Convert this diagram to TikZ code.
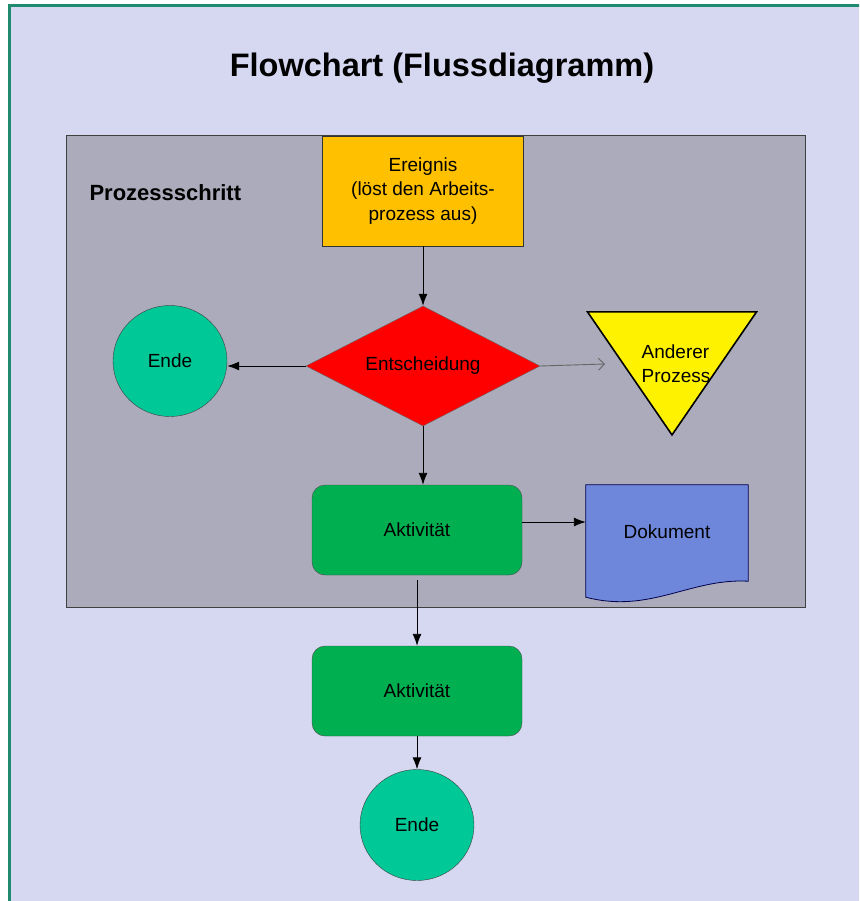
\documentclass[tikz,border=0pt]{standalone}
\usepackage{fontspec}
\setmainfont{Liberation Sans}
\usetikzlibrary{shapes,arrows.meta,positioning,calc}

\definecolor{bglav}{RGB}{214,216,242}
\definecolor{framegreen}{RGB}{30,138,110}
\definecolor{procgray}{RGB}{171,171,187}
\definecolor{evorange}{RGB}{255,192,0}
\definecolor{endgreen}{RGB}{0,200,150}
\definecolor{actgreen}{RGB}{0,176,80}
\definecolor{docblue}{RGB}{111,135,219}

\begin{document}
\begin{tikzpicture}[x=1pt, y=-1pt,
  ev/.style={rectangle, draw=black!80, fill=evorange, minimum width=201pt, minimum height=110pt, align=center, font=\fontsize{19}{24.5}\selectfont},
  dec/.style={diamond, aspect=1.95, draw=black!60, fill=red, minimum width=234pt, minimum height=120pt, inner sep=0pt, font=\fontsize{19}{24}\selectfont},
  term/.style={ellipse, draw=black!75, fill=endgreen, minimum width=114pt, minimum height=111pt, font=\fontsize{19}{24}\selectfont},
  act/.style={rectangle, rounded corners=13pt, draw=black!70, fill=actgreen, minimum width=210pt, minimum height=90pt, font=\fontsize{19}{24}\selectfont},
  tri/.style={isosceles triangle, isosceles triangle stretches, shape border rotate=-90, draw=black, line width=1.6pt, fill=yellow, minimum width=169pt, minimum height=123pt, inner sep=0pt},
  arrow/.style={-{Latex[length=12pt, width=9pt]}, line width=0.9pt}
]
\useasboundingbox (0,0) rectangle (859,901);
\clip (0,0) rectangle (859,901);

% background and frame
\fill[white] (0,0) rectangle (859,901);
\draw[line width=3pt, draw=framegreen, fill=bglav] (9,6) rectangle (890,930);

\node[font=\bfseries\fontsize{32.5}{38}\selectfont] (title) at (442,68) {Flowchart (Flussdiagramm)};

% process step area
\node[rectangle, draw=black!75, fill=procgray, minimum width=739pt, minimum height=472pt] (proc) at (435.5,371) {};
\node[anchor=west, font=\bfseries\fontsize{22}{26}\selectfont] (proclabel) at (86,193) {Prozessschritt};

\node[ev] (ereignis) at (423,191) {Ereignis\\(löst den Arbeits-\\prozess aus)};
\node[dec] (entsch) at (423,366) {Entscheidung};
\node[term] (endeA) at (170,361) {Ende};
\node[tri, anchor=apex] (other) at (672,437) {};
\node[align=left, font=\fontsize{19}{24}\selectfont] (othertext) at (676,364) {Anderer\\Prozess};
\coordinate (othertip) at (605,364);

\node[act] (akt1) at (417,530) {Aktivität};

% document with wavy bottom
\node[rectangle, minimum width=162pt, minimum height=112pt] (doc) at (667,541) {};
\draw[draw=black!70!blue, fill=docblue, line width=0.8pt] (doc.north west) -- (doc.north east) -- ([yshift=16pt]doc.south east)
  .. controls (690,578) and (650,614) .. (doc.south west) -- cycle;
\node[font=\fontsize{19}{24}\selectfont] (doctext) at (667,532) {Dokument};

\node[act] (akt2) at (417,691) {Aktivität};
\node[term] (endeB) at (417,825) {Ende};

% connectors
\draw[arrow] (ereignis) -- (entsch);
\draw[arrow] (entsch.west) -- (entsch.west -| endeA.east);
\draw[-{Straight Barb[length=6pt, width=12pt]}, draw=black!60, line width=0.9pt] (entsch.east) -- (othertip);
\draw[arrow] (entsch.south) -- (entsch.south |- akt1.north);
\draw[arrow] ([yshift=8pt]akt1.east) -- ([yshift=8pt]akt1.east -| doc.west);
\draw[arrow] ([yshift=-5pt]akt1.south) -- (akt2.north);
\draw[arrow] (akt2) -- (endeB);

\end{tikzpicture}
\end{document}
